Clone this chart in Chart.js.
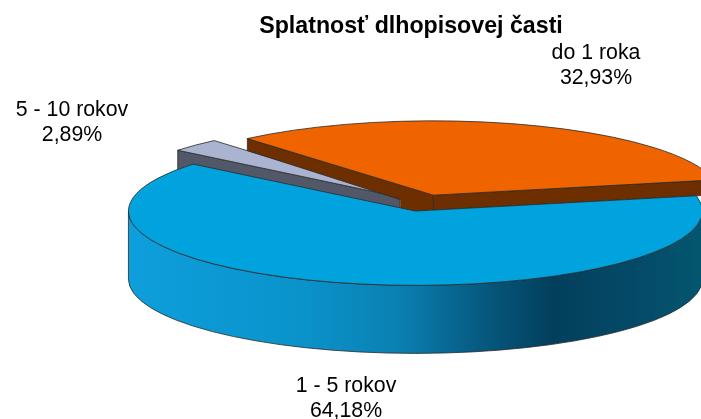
<!DOCTYPE html>
<html>
<head>
<meta charset="utf-8">
<script src="https://cdn.jsdelivr.net/npm/chart.js@4"></script>
<style>
html, body { margin: 0; padding: 0; background: #fff; overflow: hidden; }
canvas { display: block; }
</style>
</head>
<body>
<canvas id="myChart" width="701" height="419"></canvas>
<script>
const chartTitle = 'Splatnosť dlhopisovej časti';
const categories = ['5 - 10 rokov', 'do 1 roka', '1 - 5 rokov'];
const seriesValues = [2.89, 32.93, 64.18];

const topColors = ['#aab4d0', '#f06400', '#00a3de'];
const wallColors = ['#525868', '#6e2f00', '#0a8fc6'];

// centre of the pie on screen, before the slices are pulled apart
const centerX = 423;
const centerY = 203;
const tilt = 0.259;
const depth = 68;
const pull = 32;
// how far the cut sides hang down: at the rim, at the tip
const sideDepths = [[68, 68], [12, 15], [0, 0]];

// text centres of the two-line labels
const labelSpots = [[72, 110], [596, 53], [346, 386]];

function face(ctx, x1, y1, d1, x2, y2, d2, color) {
    ctx.beginPath();
    ctx.moveTo(x1, y1);
    ctx.lineTo(x2, y2);
    ctx.lineTo(x2, y2 + d2);
    ctx.lineTo(x1, y1 + d1);
    ctx.closePath();
    ctx.fillStyle = color;
    ctx.fill();
    ctx.stroke();
}

const pie3d = {
    id: 'pie3d',
    beforeDatasetsDraw(chart) {
        const ctx = chart.ctx;
        ctx.save();
        ctx.lineWidth = 0.8;
        ctx.strokeStyle = '#2a2a2a';
        ctx.lineJoin = 'round';

        chart.getDatasetMeta(0).data.forEach(function (arc, i) {
            const mid = (arc.startAngle + arc.endAngle) / 2;
            const r = arc.outerRadius;
            const x = centerX + Math.cos(mid) * pull;
            const y = centerY + Math.sin(mid) * pull * tilt;
            const a = arc.startAngle;
            const b = arc.endAngle;
            const ax = x + Math.cos(a) * r, ay = y + Math.sin(a) * r * tilt;
            const bx = x + Math.cos(b) * r, by = y + Math.sin(b) * r * tilt;
            const rim = sideDepths[i][0], tip = sideDepths[i][1];

            // the cut sides, only those turned to the viewer
            if (Math.cos(a) < 0) face(ctx, ax, ay, rim, x, y, tip, wallColors[i]);
            if (Math.cos(b) > 0) face(ctx, x, y, tip, bx, by, tip, wallColors[i]);

            // the brown side runs on down to the blue tip
            if (rim !== tip) {
                ctx.beginPath();
                ctx.moveTo(x - 33, y - 8);
                ctx.lineTo(x - 33, y + 13);
                ctx.lineTo(x - 19, y + 17);
                ctx.lineTo(x - 1, y + 15);
                ctx.lineTo(x - 1, y);
                ctx.closePath();
                ctx.fillStyle = wallColors[i];
                ctx.fill();
            }

            // outer wall of the front half
            const from = Math.max(a, 0);
            const to = Math.min(b, Math.PI);
            if (to > from) {
                const grad = ctx.createLinearGradient(x - r, 0, x + r, 0);
                grad.addColorStop(0, '#0d9fdc');
                grad.addColorStop(0.3, '#0a93cb');
                grad.addColorStop(0.47, '#0a80b2');
                grad.addColorStop(0.62, '#06587f');
                grad.addColorStop(0.74, '#033f5c');
                grad.addColorStop(0.88, '#044a68');
                grad.addColorStop(1, '#04566f');
                ctx.beginPath();
                ctx.ellipse(x, y, r, r * tilt, 0, from, to);
                ctx.ellipse(x, y + depth, r, r * tilt, 0, to, from, true);
                ctx.closePath();
                ctx.fillStyle = grad;
                ctx.fill();
                ctx.stroke();
            }

            // top of the slice is the library's own arc, squashed
            ctx.save();
            ctx.translate(x, y);
            ctx.scale(1, tilt);
            ctx.translate(-arc.x, -arc.y);
            arc.draw(ctx);
            ctx.restore();

            ctx.beginPath();
            ctx.moveTo(x, y);
            ctx.ellipse(x, y, r, r * tilt, 0, a, b);
            ctx.closePath();
            ctx.stroke();
        });
        ctx.restore();
        return false;
    },
    afterDraw(chart) {
        const ctx = chart.ctx;
        ctx.save();
        ctx.font = '21.3px "Liberation Sans", Arial, sans-serif';
        ctx.fillStyle = '#000';
        ctx.textAlign = 'center';
        ctx.textBaseline = 'middle';
        categories.forEach(function (name, i) {
            const spot = labelSpots[i];
            ctx.fillText(name, spot[0], spot[1]);
            ctx.fillText(seriesValues[i].toFixed(2).replace('.', ',') + '%', spot[0], spot[1] + 25);
        });
        ctx.restore();
    }
};

new Chart(document.getElementById('myChart').getContext('2d'), {
    type: 'pie',
    data: {
        labels: categories,
        datasets: [{
            data: seriesValues,
            backgroundColor: topColors,
            borderWidth: 0
        }]
    },
    options: {
        responsive: false,
        animation: false,
        events: [],
        rotation: -50.8,
        radius: 287,
        layout: { padding: { left: 121, right: 0, top: 13 } },
        plugins: {
            legend: { display: false },
            tooltip: { enabled: false },
            title: {
                display: true,
                text: chartTitle,
                fullSize: false,
                color: '#000',
                font: { family: '"Liberation Sans", Arial, sans-serif', size: 23.2, weight: 'bold' },
                padding: 0
            }
        }
    },
    plugins: [pie3d]
});
</script>
</body>
</html>
